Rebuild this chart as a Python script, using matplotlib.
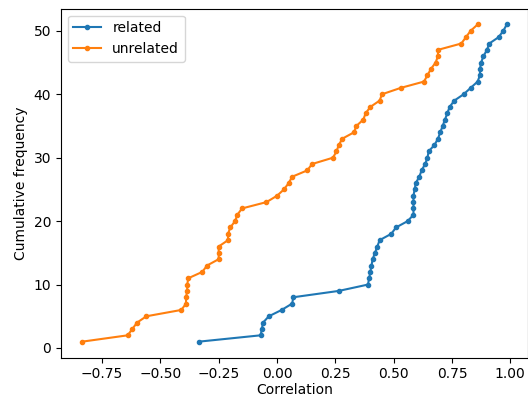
import matplotlib
matplotlib.use("Agg")
import matplotlib.pyplot as plt
import numpy as np

related = [-0.335, -0.07, -0.065, -0.06, -0.035, 0.02, 0.065, 0.07, 0.265, 0.39,
           0.395, 0.40, 0.405, 0.41, 0.42, 0.43, 0.44, 0.49, 0.51, 0.56,
           0.585, 0.585, 0.585, 0.585, 0.59, 0.595, 0.61, 0.62, 0.635, 0.645,
           0.65, 0.675, 0.69, 0.70, 0.71, 0.72, 0.73, 0.74, 0.76, 0.80,
           0.83, 0.86, 0.87, 0.87, 0.875, 0.885, 0.90, 0.91, 0.95, 0.97, 0.985]
unrelated = [-0.835, -0.64, -0.62, -0.60, -0.56, -0.41, -0.39, -0.39, -0.385, -0.385,
             -0.38, -0.32, -0.30, -0.25, -0.25, -0.25, -0.21, -0.21, -0.20, -0.18,
             -0.17, -0.15, -0.045, 0.0, 0.03, 0.05, 0.065, 0.13, 0.15, 0.24,
             0.255, 0.265, 0.28, 0.33, 0.34, 0.37, 0.38, 0.40, 0.44, 0.45,
             0.53, 0.63, 0.645, 0.66, 0.68, 0.69, 0.69, 0.79, 0.81, 0.83, 0.86]

fig = plt.figure(figsize=(5.28, 3.96), dpi=100)
ax = fig.add_axes([0.1155, 0.0972, 0.8845, 0.881])
ax.plot(related, np.arange(1, len(related) + 1), marker='.', label='related')
ax.plot(unrelated, np.arange(1, len(unrelated) + 1), marker='.', label='unrelated')
ax.set_xlabel('Correlation', labelpad=1.5)
ax.set_ylabel('Cumulative frequency')
ax.legend(loc='upper left')
fig.savefig('out.png', dpi=100)
